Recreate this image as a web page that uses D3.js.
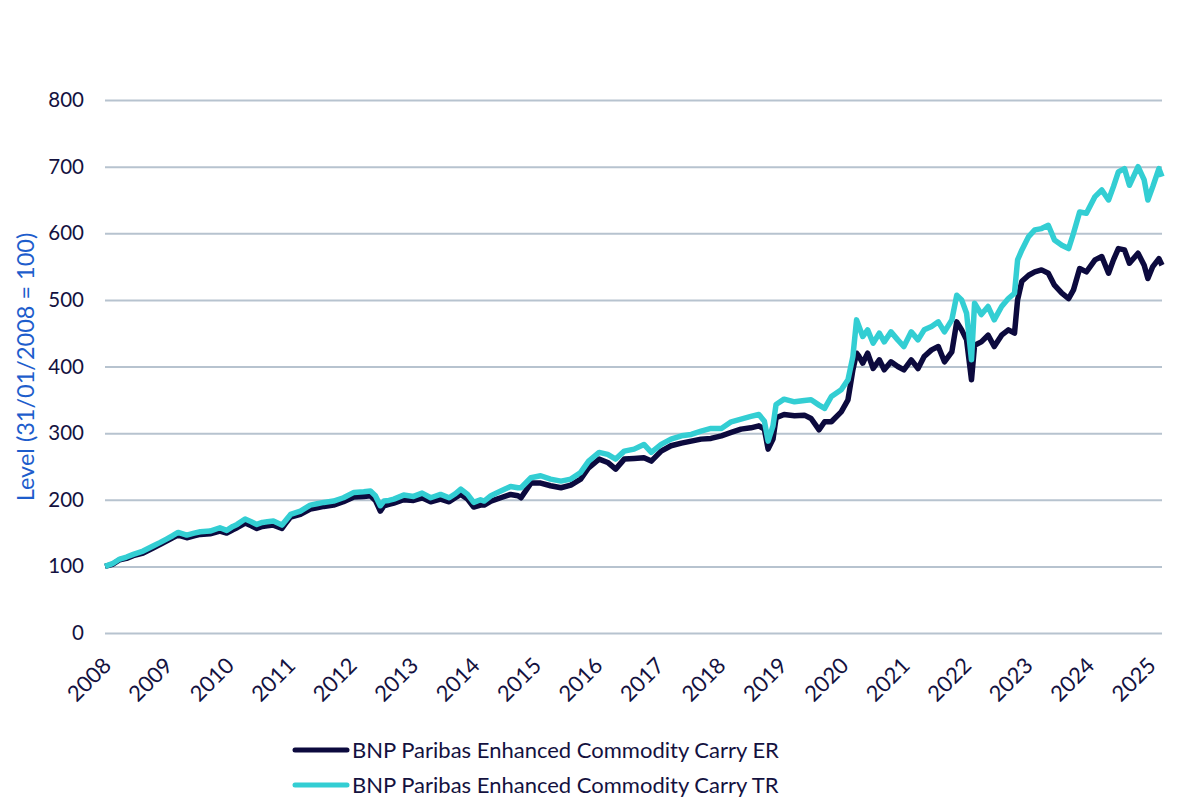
<!DOCTYPE html>
<html>
<head>
<meta charset="utf-8">
<script src="https://cdn.jsdelivr.net/npm/d3@7"></script>
<style>
  body { margin: 0; background: #fff; }
  text { font-family: Lato, "Open Sans", sans-serif; }
</style>
</head>
<body>
<div id="chart"></div>
<script>

// Chart size and plot box
const width = 1200;
const height = 803;
const margin = {left: 105, right: 38, top: 100, bottom: 170};

// Decimal years of the readings
const years = [
  2008.00, 2008.12, 2008.24, 2008.35, 2008.46, 2008.62, 2008.79, 2008.90, 2009.00, 2009.10,
  2009.19, 2009.33, 2009.45, 2009.55, 2009.71, 2009.87, 2009.98, 2010.08, 2010.15, 2010.28,
  2010.38, 2010.47, 2010.56, 2010.64, 2010.74, 2010.88, 2010.95, 2011.02, 2011.18, 2011.34,
  2011.45, 2011.56, 2011.72, 2011.88, 2012.05, 2012.21, 2012.32, 2012.40, 2012.48, 2012.54,
  2012.62, 2012.70, 2012.86, 2013.02, 2013.16, 2013.30, 2013.46, 2013.60, 2013.70, 2013.79,
  2013.90, 2014.00, 2014.11, 2014.17, 2014.28, 2014.44, 2014.60, 2014.72, 2014.77, 2014.93,
  2015.09, 2015.25, 2015.42, 2015.58, 2015.74, 2015.87, 2016.04, 2016.18, 2016.31, 2016.45,
  2016.61, 2016.77, 2016.89, 2017.05, 2017.21, 2017.38, 2017.54, 2017.70, 2017.86, 2018.03,
  2018.19, 2018.35, 2018.51, 2018.64, 2018.73, 2018.79, 2018.87, 2018.92, 2019.05, 2019.22,
  2019.38, 2019.49, 2019.62, 2019.71, 2019.82, 2019.98, 2020.09, 2020.17, 2020.23, 2020.27,
  2020.33, 2020.41, 2020.50, 2020.60, 2020.68, 2020.79, 2020.90, 2021.00, 2021.12, 2021.23,
  2021.33, 2021.45, 2021.56, 2021.66, 2021.78, 2021.86, 2021.94, 2022.02, 2022.10, 2022.15,
  2022.26, 2022.37, 2022.47, 2022.59, 2022.70, 2022.80, 2022.85, 2022.92, 2023.03, 2023.13,
  2023.24, 2023.35, 2023.45, 2023.57, 2023.68, 2023.76, 2023.86, 2023.97, 2024.11, 2024.22,
  2024.33, 2024.41, 2024.49, 2024.59, 2024.67, 2024.81, 2024.91, 2024.97, 2025.05, 2025.15,
  2025.20
];

// BNP Paribas Enhanced Commodity Carry ER
const erValues = [
  100, 103, 110, 112, 116, 120, 128, 133, 138, 143,
  147, 143, 146, 148, 149, 153, 150, 155, 158, 165,
  161, 157, 160, 161, 162, 157, 166, 174, 178, 186,
  188, 190, 192, 197, 204, 205, 206, 199, 183, 191,
  193, 195, 200, 199, 203, 197, 201, 197, 203, 208,
  201, 189, 192, 192, 198, 203, 208, 206, 203, 225,
  225, 221, 218, 222, 231, 248, 261, 256, 246, 261,
  262, 263, 258, 273, 281, 285, 288, 291, 292, 296,
  301, 306, 308, 311, 306, 276, 291, 323, 328, 326,
  327, 322, 305, 317, 317, 332, 350, 395, 420, 415,
  405, 420, 397, 410, 395, 407, 400, 395, 410, 397,
  415, 425, 430, 407, 422, 467, 455, 440, 380, 432,
  437, 447, 430, 447, 455, 450, 500, 528, 537, 542,
  545, 540, 522, 510, 502, 515, 547, 542, 560, 565,
  540, 560, 577, 575, 555, 570, 552, 532, 550, 562,
  552
];

// BNP Paribas Enhanced Commodity Carry TR
const trValues = [
  100, 104, 111, 114, 118, 123, 131, 136, 141, 146,
  151, 147, 150, 152, 153, 158, 154, 160, 163, 171,
  167, 163, 166, 167, 168, 162, 170, 178, 183, 192,
  194, 196, 198, 203, 211, 212, 213, 206, 191, 198,
  199, 201, 207, 205, 210, 203, 208, 203, 209, 216,
  208, 196, 200, 198, 206, 213, 220, 218, 218, 233,
  236, 231, 228, 231, 241, 258, 271, 268, 261, 273,
  276, 283, 271, 283, 291, 296, 298, 303, 307, 307,
  317, 321, 325, 328, 318, 288, 311, 343, 351, 347,
  349, 350, 342, 337, 355, 365, 380, 415, 470, 460,
  445, 455, 435, 450, 437, 452, 440, 430, 452, 440,
  455, 460, 467, 452, 470, 507, 500, 480, 410, 495,
  478, 490, 470, 490, 502, 510, 560, 575, 595, 605,
  607, 612, 590, 582, 577, 600, 632, 630, 655, 665,
  650, 670, 692, 697, 672, 700, 680, 650, 670, 697,
  685
];

const yTicks = [0, 100, 200, 300, 400, 500, 600, 700, 800];
const xTicks = d3.range(2008, 2026);
const seriesNames = ["BNP Paribas Enhanced Commodity Carry ER", "BNP Paribas Enhanced Commodity Carry TR"];
const seriesColors = ["#0c0a3e", "#33ced3"];

const textColor = "#14123f";

const svg = d3.select("#chart")
  .append("svg")
  .attr("width", width)
  .attr("height", height);

// Scales
const xScale = d3.scaleLinear()
  .domain([2008, 2025.2])
  .range([margin.left, width - margin.right]);

const yScale = d3.scaleLinear()
  .domain([0, 800])
  .range([height - margin.bottom, margin.top]);

// Gridlines + y labels
const yAxis = svg.append("g")
  .attr("transform", `translate(${margin.left},0)`)
  .call(d3.axisLeft(yScale)
    .tickValues(yTicks)
    .tickSize(-(width - margin.left - margin.right))
    .tickPadding(21));
yAxis.select(".domain").remove();
yAxis.selectAll(".tick line")
  .attr("stroke", "#b7c3cf")
  .attr("stroke-width", 2);
yAxis.selectAll(".tick text")
  .attr("fill", textColor)
  .attr("font-size", "20.5px");

// X axis, rotated year labels
const xAxis = svg.append("g")
  .attr("transform", `translate(0,${height - margin.bottom})`)
  .call(d3.axisBottom(xScale)
    .tickValues(xTicks)
    .tickFormat(d => String(d))
    .tickSize(0));
xAxis.select(".domain").remove();
xAxis.selectAll(".tick text")
  .attr("fill", textColor)
  .attr("font-size", "22px")
  .attr("text-anchor", "end")
  .attr("dy", null)
  .attr("y", 0)
  .attr("transform", "translate(7,34) rotate(-45)");

// Y axis title
svg.append("text")
  .attr("transform", "translate(34,367) rotate(-90)")
  .attr("text-anchor", "middle")
  .attr("fill", "#1d5dcc")
  .attr("font-size", "23.5px")
  .text("Level (31/01/2008 = 100)");

// Lines
const line = d3.line()
  .x((d, i) => xScale(years[i]))
  .y(d => yScale(d));

[erValues, trValues].forEach((vals, k) => {
  svg.append("path")
    .datum(vals)
    .attr("fill", "none")
    .attr("stroke", seriesColors[k])
    .attr("stroke-width", 5.5)
    .attr("stroke-linejoin", "round")
    .attr("d", line);
});

// Legend
const legend = svg.append("g").attr("transform", "translate(295,750)");
seriesNames.forEach((name, k) => {
  const row = legend.append("g").attr("transform", `translate(0,${k * 35})`);
  row.append("line")
    .attr("x1", 0).attr("x2", 52)
    .attr("stroke", seriesColors[k])
    .attr("stroke-width", 5)
    .attr("stroke-linecap", "round");
  row.append("text")
    .attr("x", 57)
    .attr("y", 8)
    .attr("fill", textColor)
    .attr("font-size", "22px")
    .text(name);
});

</script>
</body>
</html>
